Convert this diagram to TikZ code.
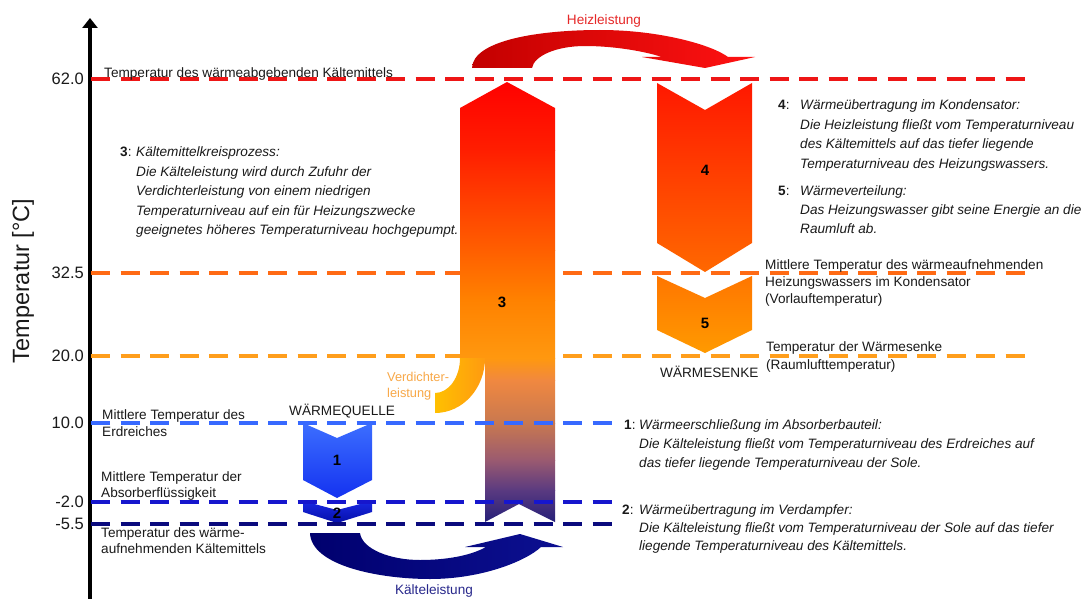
\documentclass[tikz,border=0pt]{standalone}
\usepackage{fontspec}
\usepackage{array}
\setmainfont{Liberation Sans}
\usetikzlibrary{arrows.meta}
\definecolor{txt}{RGB}{26,26,26}
\definecolor{lred}{RGB}{238,22,22}
\definecolor{lor1}{RGB}{255,106,20}
\definecolor{lor2}{RGB}{255,158,28}
\definecolor{lbl1}{RGB}{55,105,255}
\definecolor{lbl2}{RGB}{22,22,205}
\definecolor{lbl3}{RGB}{10,10,125}
\definecolor{s0}{RGB}{255,0,0}
\definecolor{s1}{RGB}{255,30,0}
\definecolor{s2}{RGB}{255,95,0}
\definecolor{s3}{RGB}{255,130,0}
\definecolor{s4}{RGB}{255,152,15}
\definecolor{s5}{RGB}{240,136,64}
\definecolor{s6}{RGB}{200,120,80}
\definecolor{s7}{RGB}{154,90,112}
\definecolor{s8}{RGB}{90,58,128}
\definecolor{s9}{RGB}{35,30,120}
\definecolor{a4t}{RGB}{255,24,0}
\definecolor{a4b}{RGB}{255,104,0}
\definecolor{a5t}{RGB}{255,118,0}
\definecolor{a5b}{RGB}{255,154,0}
\definecolor{a1t}{RGB}{60,110,255}
\definecolor{a1b}{RGB}{20,50,240}
\definecolor{a2t}{RGB}{25,40,225}
\definecolor{a2b}{RGB}{5,15,170}
\definecolor{vyel}{RGB}{255,192,0}
\definecolor{vor}{RGB}{255,154,16}
\definecolor{hdark}{RGB}{195,0,0}
\definecolor{hlight}{RGB}{255,18,18}
\definecolor{kdark}{RGB}{0,0,110}
\definecolor{klight}{RGB}{12,16,145}
\definecolor{vtxt}{RGB}{248,168,72}
\definecolor{htxt}{RGB}{230,40,40}
\definecolor{ktxt}{RGB}{40,40,140}
\newcommand\pblock[2]{\fontsize{13.6}{#1}\selectfont\begin{tabular}[t]{@{}l@{}}#2\end{tabular}}
\newcommand\iblock[2]{\fontsize{13.6}{#1}\selectfont\begin{tabular}[t]{@{}>{\itshape}l@{}}#2\end{tabular}}
\tikzset{
  lab/.style={inner sep=0pt, text=txt, font=\fontsize{13.6}{17}\selectfont, anchor=base west},
  tick/.style={inner sep=0pt, text=txt, font=\fontsize{16.5}{19}\selectfont, anchor=east},
  num/.style={inner sep=0pt, text=black, font=\bfseries\fontsize{15}{18}\selectfont},
  dline/.style={line width=3.5pt, dash pattern=on 19pt off 10.5pt}
}
\begin{document}
\begin{tikzpicture}[x=1pt,y=-1pt]
\useasboundingbox (0,0) rectangle (1086,599);
\fill[white] (0,0) rectangle (1086,599);

% axis
\draw[line width=4pt, -{Triangle[width=15pt,length=10pt]}] (90,599) -- (90,18);
\node[rotate=90, inner sep=0pt, text=txt, font=\fontsize{23.5}{27}\selectfont] (ax) at (23,281) {Temperatur [°C]};

% warm dashed lines (behind shapes)
\draw[dline, lred] (91,79) -- (1033,79);
\draw[dline, lor1] (91,273) -- (1033,273);
\draw[dline, lor2] (91,356) -- (1033,356);

% Heizleistung arrow
\shade[left color=hdark, right color=hlight]
  (472,68) .. controls (473,40) and (540,30) .. (600,30)
  .. controls (660,30) and (712,45) .. (728,57) -- (755,57) -- (705,68) -- (642,57) -- (662,57)
  .. controls (640,50) and (610,46) .. (585,46)
  .. controls (556,46) and (534,56) .. (532,68) -- cycle;

% Kaelteleistung arrow
\shade[left color=kdark, right color=klight]
  (310,533) .. controls (311,566) and (380,579) .. (430,579)
  .. controls (482,579) and (526,561) .. (541,547) -- (563,547) -- (520,534) -- (465,547) -- (486,547)
  .. controls (470,556) and (445,560) .. (420,560)
  .. controls (390,560) and (362,549) .. (360,533) -- cycle;

% column 3
\begin{scope}
\clip (460,358) -- (460,108) -- (507,82) -- (555,108) -- (555,522) -- (519,504) -- (485,522) -- (485,358) -- cycle;
\shade[top color=s0, bottom color=s1] (455,80) rectangle (560,150.6);
\shade[top color=s1, bottom color=s2] (455,150) rectangle (560,250.6);
\shade[top color=s2, bottom color=s3] (455,250) rectangle (560,300.6);
\shade[top color=s3, bottom color=s4] (455,300) rectangle (560,358.6);
\shade[top color=s4, bottom color=s5] (455,358) rectangle (560,380.6);
\shade[top color=s5, bottom color=s6] (455,380) rectangle (560,423.6);
\shade[top color=s6, bottom color=s7] (455,423) rectangle (560,460.6);
\shade[top color=s7, bottom color=s8] (455,460) rectangle (560,490.6);
\shade[top color=s8, bottom color=s9] (455,490) rectangle (560,524);
\end{scope}

% Verdichterleistung band
\shade[left color=vyel, right color=vor]
  (460,358) arc[start angle=0, end angle=90, x radius=25, y radius=35]
  -- (435,413) arc[start angle=90, end angle=0, x radius=50, y radius=55] -- cycle;

% arrows 4 and 5
\shade[top color=a4t, bottom color=a4b] (657,83) -- (705,110) -- (752,83) -- (752,243) -- (705,272) -- (657,243) -- cycle;
\shade[top color=a5t, bottom color=a5b] (657,276) -- (705,298) -- (752,276) -- (752,330) -- (705,353) -- (657,330) -- cycle;

% arrows 1 and 2
\shade[top color=a1t, bottom color=a1b] (303,423) -- (337,438) -- (372,423) -- (372,480) -- (337,498) -- (303,480) -- cycle;
\shade[top color=a2t, bottom color=a2b] (303,501) -- (337,510) -- (372,501) -- (372,512) -- (337,523) -- (303,512) -- cycle;

% cold dashed lines (on top)
\draw[dline, lbl1] (91,423) -- (617,423);
\draw[dline, lbl2] (91,502) -- (617,502);
\draw[dline, lbl3] (91,524) -- (617,524);

% tick labels
\node[tick] (k1) at (84,79) {62.0};
\node[tick] (k2) at (84,273) {32.5};
\node[tick] (k3) at (84,356) {20.0};
\node[tick] (k4) at (84,423) {10.0};
\node[tick] (k5) at (84,502) {-2.0};
\node[tick] (k6) at (84,524) {-5.5};

% numbers on shapes
\node[num] (n1) at (337,460) {1};
\node[num] (n2) at (337,513) {2};
\node[num] (n3) at (502,302) {3};
\node[num] (n4) at (705,170) {4};
\node[num] (n5) at (705,323) {5};

% flow labels
\node[inner sep=0pt, text=htxt, font=\fontsize{13.6}{17}\selectfont, anchor=base] (hz) at (604,24.5) {Heizleistung};
\node[inner sep=0pt, text=ktxt, font=\fontsize{13.6}{17}\selectfont, anchor=base] (kl) at (434,594.5) {Kälteleistung};
\node[lab, text=vtxt] (vd) at (387,381.5) {\fontsize{12.8}{15.5}\selectfont\begin{tabular}[t]{@{}l@{}}Verdichter-\\leistung\end{tabular}};
\node[lab] (wq) at (289,415) {WÄRMEQUELLE};
\node[lab] (ws) at (660,377) {WÄRMESENKE};

% line labels
\node[lab] (t62) at (104,77.5) {Temperatur des wärmeabgebenden Kältemittels};
\node[lab] (t325) at (765,269) {\pblock{17}{Mittlere Temperatur des wärmeaufnehmenden\\Heizungswassers im Kondensator\\(Vorlauftemperatur)}};
\node[lab] (t20) at (766,351) {\pblock{18}{Temperatur der Wärmesenke\\(Raumlufttemperatur)}};
\node[lab] (t10) at (102,419.5) {\pblock{16.5}{Mittlere Temperatur des\\Erdreiches}};
\node[lab] (tm2) at (101,481) {\pblock{16.5}{Mittlere Temperatur der\\Absorberflüssigkeit}};
\node[lab] (tm55) at (101,537) {\pblock{16}{Temperatur des wärme-\\aufnehmenden Kältemittels}};

% description blocks
\node[lab] (d3n) at (120,157) {\textbf{3}:};
\node[lab] (d3) at (136,157) {\iblock{19.4}{Kältemittelkreisprozess:\\Die Kälteleistung wird durch Zufuhr der\\Verdichterleistung von einem niedrigen\\Temperaturniveau auf ein für Heizungszwecke\\geeignetes höheres Temperaturniveau hochgepumpt.}};
\node[lab] (d4n) at (778,109.5) {\textbf{4}:};
\node[lab] (d4) at (800,109.5) {\iblock{19.6}{Wärmeübertragung im Kondensator:\\Die Heizleistung fließt vom Temperaturniveau\\des Kältemittels auf das tiefer liegende\\Temperaturniveau des Heizungswassers.}};
\node[lab] (d5n) at (778,195) {\textbf{5}:};
\node[lab] (d5) at (800,195) {\iblock{19}{Wärmeverteilung:\\Das Heizungswasser gibt seine Energie an die\\Raumluft ab.}};
\node[lab] (d1n) at (624,429.5) {\textbf{1}:};
\node[lab] (d1) at (639,429.5) {\iblock{19}{Wärmeerschließung im Absorberbauteil:\\Die Kälteleistung fließt vom Temperaturniveau des Erdreiches auf\\das tiefer liegende Temperaturniveau der Sole.}};
\node[lab] (d2n) at (622,514.5) {\textbf{2}:};
\node[lab] (d2) at (639,514.5) {\iblock{18}{Wärmeübertragung im Verdampfer:\\Die Kälteleistung fließt vom Temperaturniveau der Sole auf das tiefer\\liegende Temperaturniveau des Kältemittels.}};
\end{tikzpicture}
\end{document}
